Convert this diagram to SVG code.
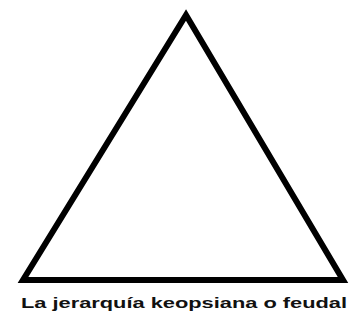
<svg xmlns="http://www.w3.org/2000/svg" width="355" height="323" viewBox="0 0 355 323">
<style>
.tri{fill:none;stroke:#000;stroke-width:6;stroke-linejoin:miter}
.cap{font-family:"Liberation Sans",Arial,sans-serif;font-weight:bold;font-size:15px;fill:#111}
</style>
<rect width="355" height="323" fill="#fff"/>
<g id="triangle">
<polygon class="tri" points="186,15 23,280 343,280"/>
</g>
<g id="caption">
<text class="cap" x="21" y="308" textLength="326" lengthAdjust="spacingAndGlyphs">La jerarquía keopsiana o feudal</text>
</g>
</svg>
